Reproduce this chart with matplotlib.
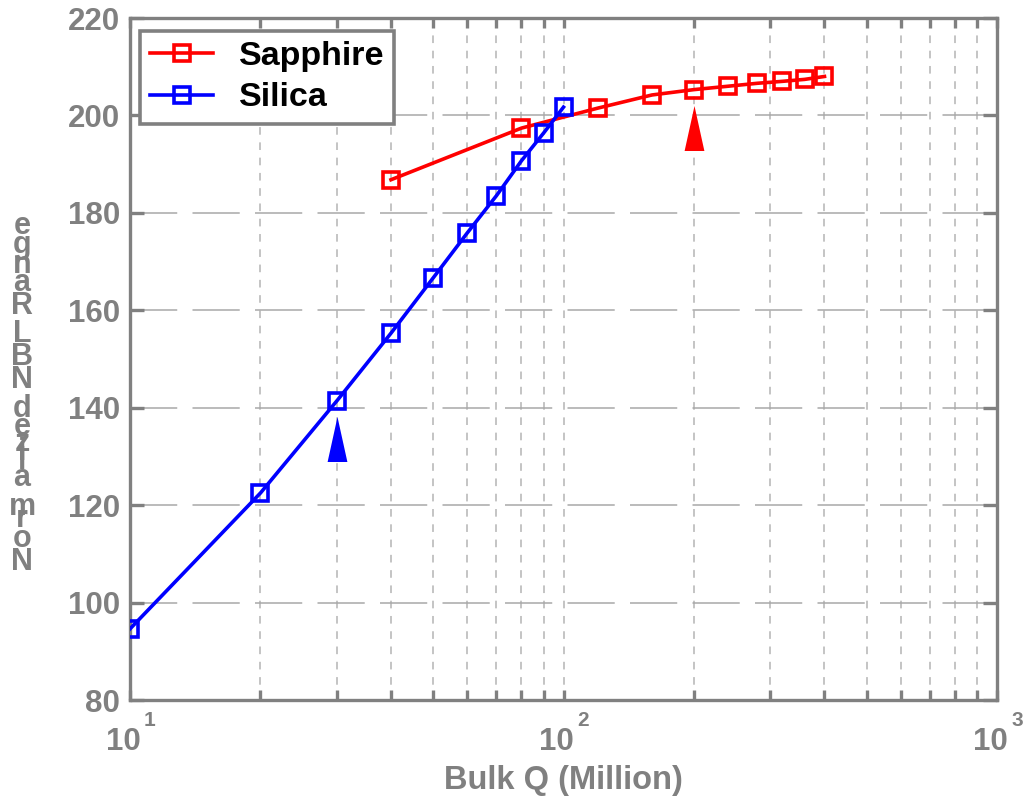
import numpy as np
import matplotlib
matplotlib.use('Agg')
import matplotlib.pyplot as plt
from matplotlib import font_manager, transforms

# ---------------- data ----------------
sapphire_q = [40, 80, 120, 160, 200, 240, 280, 320, 360, 400]
sapphire_range = [186.8, 197.4, 201.5, 204.2, 205.3, 206.0, 206.6, 207.0, 207.4, 208.0]
silica_q = [10, 20, 30, 40, 50, 60, 70, 80, 90, 100]
silica_range = [94.6, 122.5, 141.4, 155.3, 166.6, 175.9, 183.5, 190.7, 196.4, 201.7]

# arrow markers (bulk Q, centre of triangle)
arrow_q = [30, 200]
arrow_level = [133.5, 197.5]
arrow_colors = ['#0000ff', '#ff0000']

y_ticks = [80, 100, 120, 140, 160, 180, 200, 220]
x_decades = [10, 100, 1000]
x_exponents = ['1', '2', '3']

series_labels = ['Sapphire', 'Silica']
x_label = 'Bulk Q (Million)'
y_label = 'Normalized NBL Range'

GRAY = '#808080'
plt.rcParams['font.family'] = ['Liberation Sans', 'DejaVu Sans']
plt.rcParams['font.weight'] = 'bold'
plt.rcParams['lines.scale_dashes'] = False

W, H = 1023, 797
fig = plt.figure(figsize=(W / 100, H / 100), dpi=100)
fig.patch.set_facecolor('white')
L, R, T, B = 130, 997, 18, 700
ax = fig.add_axes([L / W, 1 - B / H, (R - L) / W, (B - T) / H])

ax.plot(sapphire_q, sapphire_range, '-s', color='#ff0000', lw=2.6, ms=12,
        mfc='none', mew=2.6, label=series_labels[0], zorder=3)
ax.plot(silica_q, silica_range, '-s', color='#0000ff', lw=2.6, ms=12,
        mfc='none', mew=2.6, label=series_labels[1], zorder=3)

tri = [(-0.22, -0.5), (0.22, -0.5), (0.0, 0.5)]
for q, lv, c in zip(arrow_q, arrow_level, arrow_colors):
    ax.plot([q], [lv], linestyle='none', marker=tri, ms=32.4, color=c,
            mew=0, zorder=4)

ax.set_xscale('log')
ax.set_xlim(10, 1000)
ax.set_ylim(80, 220)
ax.set_yticks(y_ticks)
ax.set_xticks(x_decades)
ax.xaxis.set_major_formatter(matplotlib.ticker.NullFormatter())
ax.xaxis.set_minor_formatter(matplotlib.ticker.NullFormatter())

ax.set_axisbelow(True)
ax.grid(True, axis='y', which='major', color='#a8a8a8', lw=1.1,
        linestyle=(0, (34, 11)))
ax.grid(True, axis='x', which='both', color='#b4b4b4', lw=1.1,
        linestyle=(0, (5.5, 5.5)))

for s in ax.spines.values():
    s.set_color(GRAY)
    s.set_linewidth(2.4)

ax.tick_params(axis='both', which='both', direction='in', top=True, right=True,
               color=GRAY, width=2.4)
ax.tick_params(axis='y', which='major', length=10, pad=7,
               labelsize=22.5, labelcolor=GRAY)
ax.tick_params(axis='x', which='both', length=7)
ax.tick_params(axis='y', which='minor', left=False, right=False)
for lab in ax.get_yticklabels():
    lab.set_fontweight('bold')

# x tick labels as 10 with exponent
for v, e in zip(x_decades, x_exponents):
    tr_main = transforms.offset_copy(ax.get_xaxis_transform(), fig=fig,
                                     x=-7, y=-50, units='dots')
    ax.text(v, 0, '10', transform=tr_main, ha='center', va='baseline',
            fontsize=22.5, fontweight='bold', color=GRAY, clip_on=False)
    tr_sup = transforms.offset_copy(ax.get_xaxis_transform(), fig=fig,
                                    x=14, y=-26, units='dots')
    ax.text(v, 0, e, transform=tr_sup, ha='left', va='baseline',
            fontsize=15, fontweight='bold', color=GRAY, clip_on=False)

ax.set_xlabel(x_label, fontsize=23.5, fontweight='bold', color=GRAY,
              va='baseline')
ax.xaxis.set_label_coords(0.5, (B - 789) / (B - T))

# y label: upright characters stacked bottom-to-top
fp = font_manager.FontProperties(family='Liberation Sans', weight='bold', size=22)
try:
    from matplotlib.ft2font import FT2Font
    ft = FT2Font(font_manager.findfont(fp))
    ft.set_size(22, 100)
    advs = []
    for ch in y_label:
        g = ft.load_char(ord(ch))
        advs.append(g.linearHoriAdvance / 65536.0)
except Exception:
    advs = [17.0] * len(y_label)
scale = 1.05
base = 570.0
for ch, a in zip(y_label, advs):
    if ch != ' ':
        fig.text(22 / W, (H - base) / H, ch, ha='center', va='baseline',
                 fontsize=22, fontweight='bold', color=GRAY)
    base -= a * scale

leg = ax.legend(loc='upper left', bbox_to_anchor=((140 - L) / (R - L), (B - 31) / (B - T)),
                borderaxespad=0, fancybox=False, framealpha=1, edgecolor=GRAY,
                prop={'size': 24.5, 'weight': 'bold'}, handlelength=1.85,
                handletextpad=0.75, borderpad=0.3, labelspacing=0.3)
leg.get_frame().set_linewidth(2.6)

fig.savefig('out.png', dpi=100, facecolor='white')
